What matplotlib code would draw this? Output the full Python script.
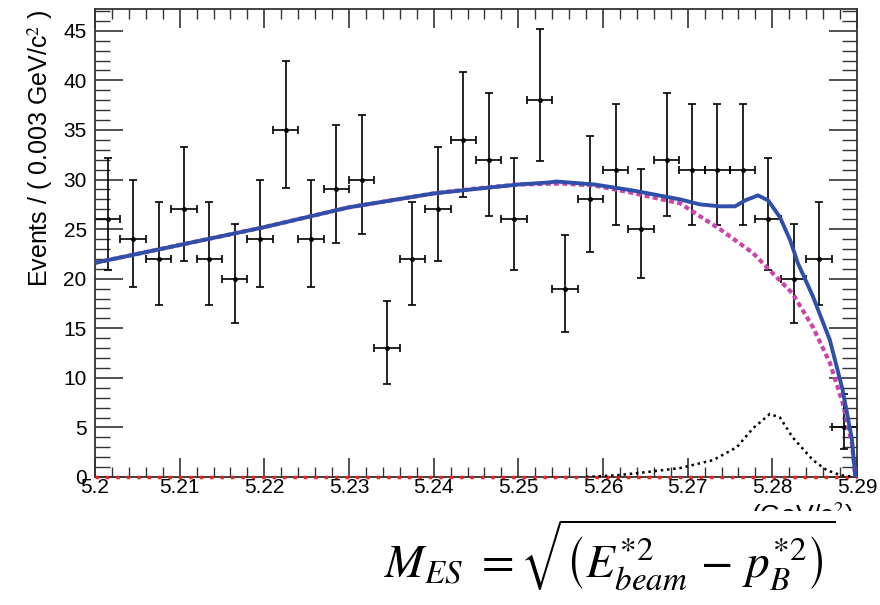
import matplotlib
matplotlib.use("Agg")

import matplotlib.pyplot as plt
import numpy as np
from matplotlib.patches import Rectangle
from matplotlib.ticker import MultipleLocator

# data: events per 0.003 GeV/c^2 bin
bin_centers = [5.2015 + 0.003 * i for i in range(30)]
counts = [26, 24, 22, 27, 22, 20, 24, 35, 24, 29,
          30, 13, 22, 27, 34, 32, 26, 38, 19, 28,
          31, 25, 32, 31, 31, 31, 26, 20, 22, 5]

# fit components
bkg_x = [5.200, 5.205, 5.210, 5.215, 5.220, 5.225, 5.230, 5.235, 5.240, 5.245,
         5.250, 5.255, 5.259, 5.2632, 5.2691, 5.2738, 5.2777, 5.2785, 5.2824,
         5.2848, 5.2868, 5.2883, 5.2894, 5.2898]
bkg_y = [21.6, 22.5, 23.4, 24.3, 25.2, 26.2, 27.2, 27.9, 28.6, 29.1,
         29.5, 29.6, 29.4, 28.7, 27.6, 25.0, 22.6, 21.9, 18.5,
         15.1, 11.5, 7.5, 3.4, 0.0]

sig_x = [5.258, 5.262, 5.2652, 5.2691, 5.273, 5.2758, 5.2777, 5.2797, 5.2809,
         5.2824, 5.2848, 5.2864, 5.288, 5.2898]
sig_y = [0.0, 0.2, 0.5, 0.9, 1.7, 3.0, 4.9, 6.35, 6.0,
         4.0, 1.7, 0.7, 0.2, 0.0]

tot_x = [5.200, 5.210, 5.220, 5.230, 5.240, 5.250, 5.2535, 5.2545, 5.259,
         5.2635, 5.2691, 5.2714, 5.2738, 5.2756, 5.2768, 5.2783, 5.2795,
         5.2809, 5.2821, 5.2830, 5.2848, 5.2868, 5.2883, 5.2894, 5.2898]
tot_y = [21.6, 23.4, 25.2, 27.2, 28.6, 29.5, 29.7, 29.8, 29.5,
         28.9, 28.0, 27.5, 27.3, 27.3, 27.9, 28.4, 27.9,
         26.2, 23.9, 21.6, 18.2, 13.8, 8.8, 3.8, 0.0]

other_x = [5.200, 5.290]
other_y = [0.0, 0.0]

plt.rcParams["font.family"] = ["Liberation Sans", "DejaVu Sans"]
plt.rcParams["mathtext.fontset"] = "stix"

fig = plt.figure(figsize=(8.8, 6.05), dpi=100)
ax = fig.add_axes([95 / 880, 1 - 477 / 605, 762 / 880, 468 / 605])

n = np.array(counts, dtype=float)
err_lo = np.sqrt(n - 0.25)
err_hi = np.sqrt(n + 0.75) + 1.0
ax.errorbar(bin_centers, counts, yerr=[err_lo, err_hi], xerr=0.0015,
            fmt="o", ms=2.5, color="black", ecolor="black", elinewidth=1.2,
            capsize=3, capthick=1.2, zorder=2)

ax.plot(other_x, other_y, color="#ee2222", ls=(0, (1, 2)), lw=2.5, zorder=3,
        clip_on=False)
ax.plot(sig_x, sig_y, color="black", ls=(0, (1, 1.5)), lw=1.8, zorder=3)
ax.plot(bkg_x, bkg_y, color="#cc44aa", ls=(0, (1.2, 0.8)), lw=3, zorder=4)
ax.plot(tot_x, tot_y, color="#2f4fa8", lw=2.8, zorder=5)

ax.set_xlim(5.2, 5.29)
ax.set_ylim(0, 47.2)
ax.xaxis.set_major_locator(MultipleLocator(0.01))
ax.xaxis.set_minor_locator(MultipleLocator(0.002))
ax.yaxis.set_major_locator(MultipleLocator(5))
ax.yaxis.set_minor_locator(MultipleLocator(1))
ax.xaxis.set_major_formatter(plt.FuncFormatter(lambda v, p: f"{v:.2f}".rstrip("0")))
ax.tick_params(which="both", direction="in", top=True, right=True,
               labelsize=15, color="#333333")
ax.tick_params(axis="y", which="major", length=20, width=1.2, pad=6)
ax.tick_params(axis="y", which="minor", length=11, width=1.0)
ax.tick_params(axis="x", which="major", length=14, width=1.2, pad=1)
ax.tick_params(axis="x", which="minor", length=7, width=1.0)
for s in ax.spines.values():
    s.set_linewidth(1.3)
    s.set_color("#333333")

ax.set_ylabel("Events / ( 0.003 GeV/c$^2$ )", loc="top", fontsize=18, labelpad=6)

# x-axis title, mostly hidden behind the formula box
fig.text(853 / 880, 1 - 531 / 605, "$m_{ES}$ (GeV/c$^2$)", ha="right", va="bottom",
         fontsize=19, zorder=2)
fig.patches.append(Rectangle((375 / 880, 0), 1 - 375 / 880, 1 - 511 / 605,
                             transform=fig.transFigure, facecolor="white",
                             edgecolor="none", zorder=5))
fig.text(610 / 880, 1 - 555 / 605,
         r"$M_{ES}\ = \sqrt{\left(E^{*2}_{beam}\, - \,p^{*2}_{B}\right)}$",
         ha="center", va="center", fontsize=34, zorder=6)

fig.savefig("out.png", dpi=100)
